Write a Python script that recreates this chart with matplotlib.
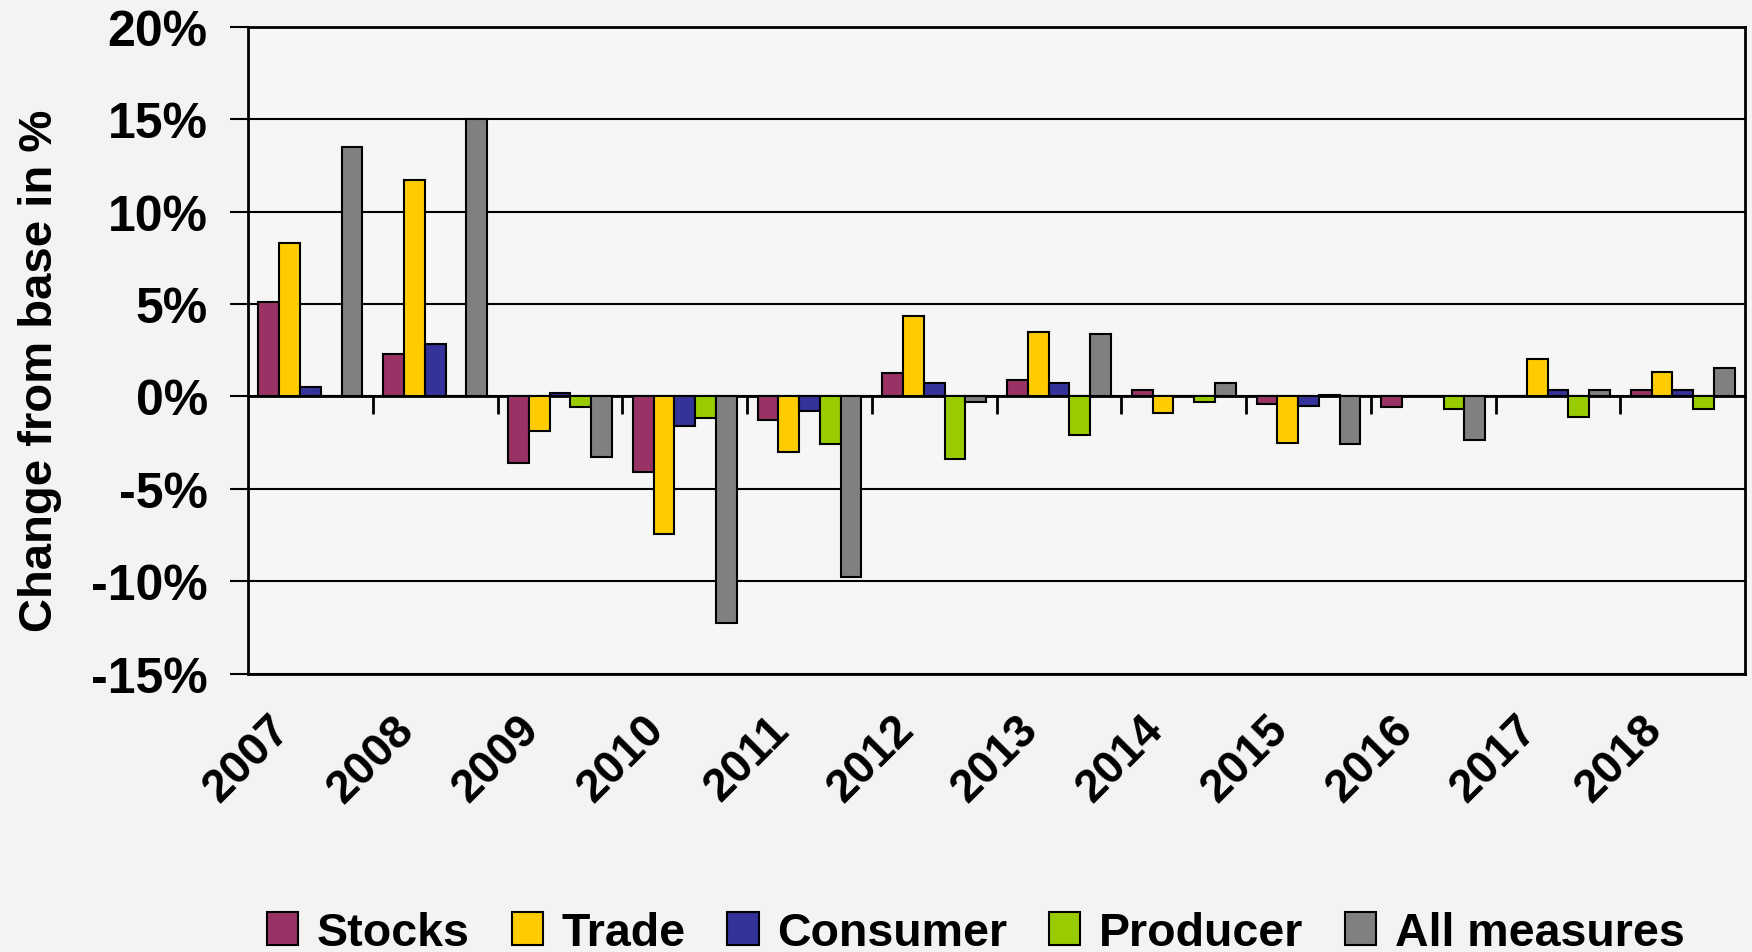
import matplotlib
matplotlib.use('Agg')
import matplotlib.pyplot as plt
import numpy as np
from matplotlib.transforms import ScaledTranslation

# 数据
years = ['2007', '2008', '2009', '2010', '2011', '2012',
         '2013', '2014', '2015', '2016', '2017', '2018']
stocks = [5.1, 2.3, -3.6, -4.1, -1.3, 1.25, 0.9, 0.35, -0.4, -0.55, 0.0, 0.35]
trade = [8.3, 11.7, -1.85, -7.45, -3.0, 4.35, 3.5, -0.9, -2.5, 0.0, 2.05, 1.3]
consumer = [0.5, 2.85, 0.2, -1.6, -0.8, 0.75, 0.75, 0.0, -0.5, 0.0, 0.35, 0.35]
producer = [0.0, 0.0, -0.55, -1.15, -2.6, -3.4, -2.1, -0.3, 0.1, -0.7, -1.1, -0.7]
all_measures = [13.5, 15.0, -3.3, -12.25, -9.75, -0.3, 3.35, 0.75, -2.6, -2.35, 0.35, 1.55]

series_names = ['Stocks', 'Trade', 'Consumer', 'Producer', 'All measures']
series_colors = ['#993366', '#FFCC00', '#333399', '#99CC00', '#808080']
y_ticks = [-15, -10, -5, 0, 5, 10, 15, 20]
y_labels = ['-15%', '-10%', '-5%', '0%', '5%', '10%', '15%', '20%']

plt.rcParams['font.family'] = ['Liberation Sans', 'DejaVu Sans']
plt.rcParams['font.weight'] = 'bold'

fig = plt.figure(figsize=(17.52, 9.53), dpi=100, facecolor='#f3f3f3')
ax = fig.add_axes([0.1416, 0.292, 0.8545, 0.679])
ax.set_facecolor('#f6f6f6')

# 绘制分组柱状图
x = np.arange(len(years))
bar_w = 1 / 6
all_series = [stocks, trade, consumer, producer, all_measures]
for i, (vals, name, color) in enumerate(zip(all_series, series_names, series_colors)):
    ax.bar(x + 0.5 + (i - 2) * bar_w, vals, width=bar_w, color=color,
           edgecolor='black', linewidth=1.5, label=name, zorder=3)

ax.set_xlim(0, len(years))
ax.set_ylim(-15, 20)

# y轴
ax.set_yticks(y_ticks, y_labels)
ax.tick_params(axis='y', direction='out', length=13, width=1.5, pad=16, labelsize=36)
ax.yaxis.grid(True, color='black', linewidth=1.5, zorder=0)
ax.set_ylabel('Change from base in %', fontsize=34, fontweight='bold')
ax.yaxis.set_label_coords(-0.124, 0.47)

# x轴标签放在每组中间, 不画刻度线
ax.set_xticks(x + 0.5, years)
ax.tick_params(axis='x', length=0, labelsize=33, pad=24)
offset = ScaledTranslation(-0.43, 0, fig.dpi_scale_trans)
for lab in ax.get_xticklabels():
    lab.set_rotation(45)
    lab.set_ha('right')
    lab.set_rotation_mode('anchor')
    lab.set_transform(lab.get_transform() + offset)

for sp in ax.spines.values():
    sp.set_linewidth(2)
    sp.set_color('black')

# 零线上的分隔刻度
zero_frac = (0 - y_ticks[0]) / (y_ticks[-1] - y_ticks[0])
sec = ax.secondary_xaxis(zero_frac)
sec.set_xticks(np.arange(1, len(years)), [''] * (len(years) - 1))
sec.xaxis.set_ticks_position('bottom')
sec.tick_params(axis='x', direction='out', length=13, width=2)
sec.spines['bottom'].set_linewidth(2)
sec.spines['top'].set_visible(False)

leg = fig.legend(loc='lower center', bbox_to_anchor=(0.557, -0.047), ncol=5,
                 frameon=False, fontsize=33.5, handlelength=0.67, handleheight=0.7,
                 handletextpad=0.4, columnspacing=0.9)

fig.savefig('out.png', dpi=100, facecolor=fig.get_facecolor())
